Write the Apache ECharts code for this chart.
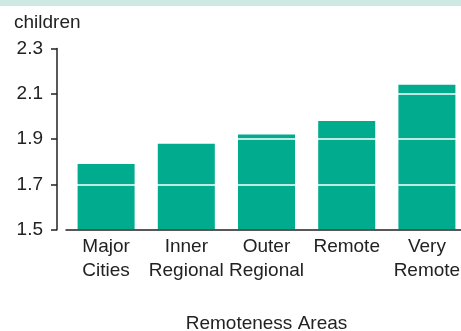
<!DOCTYPE html>
<html>
<head>
<meta charset="utf-8">
<script src="https://cdn.jsdelivr.net/npm/echarts@6/dist/echarts.min.js"></script>
<style>
  html, body { margin: 0; padding: 0; background: #fff; }
  #chart { width: 461px; height: 331px; }
</style>
</head>
<body>
<div id="chart"></div>
<script>
// Remoteness areas and their values (children)
const categories = ['Major\nCities', 'Inner\nRegional', 'Outer\nRegional', 'Remote', 'Very\nRemote'];
const values = [1.79, 1.88, 1.92, 1.98, 2.14];
const yTicks = [1.5, 1.7, 1.9, 2.1, 2.3];

const FONT = '"Liberation Sans", Arial, sans-serif';
const TEXT = '#222';
const BAR = '#00ab8e';

const chart = echarts.init(document.getElementById('chart'), null, { renderer: 'canvas' });

chart.setOption({
  animation: false,
  textStyle: { fontFamily: FONT },
  graphic: [
    { type: 'rect', left: 0, top: 0, shape: { width: 461, height: 6 }, style: { fill: '#cde9e2' } },
    { type: 'text', left: 14, top: 13, style: { text: 'children', font: '19px ' + FONT, fill: TEXT } }
  ],
  grid: {
    left: 66, top: 48.5, width: 401, height: 181.2,
    containLabel: false, outerBoundsMode: 'none'
  },
  xAxis: {
    type: 'category',
    data: categories,
    z: 5,
    name: 'Remoteness Areas',
    nameLocation: 'middle',
    nameGap: 85,
    nameTextStyle: { fontSize: 19, color: TEXT, fontFamily: FONT },
    axisLine: { lineStyle: { color: '#222', width: 1.5 } },
    axisTick: { alignWithLabel: true, length: 6, lineStyle: { color: '#222', width: 1.5 } },
    axisLabel: { fontSize: 19, color: TEXT, lineHeight: 24, margin: 5, interval: 0, fontFamily: FONT }
  },
  yAxis: {
    type: 'value',
    min: yTicks[0],
    max: yTicks[yTicks.length - 1],
    interval: 0.2,
    offset: 9,
    z: 4,
    axisLine: { show: true, lineStyle: { color: '#222', width: 1.5 } },
    axisTick: { show: true, length: 6, lineStyle: { color: '#222', width: 1.5 } },
    axisLabel: {
      fontSize: 19, color: TEXT, margin: 14, fontFamily: FONT,
      formatter: v => v.toFixed(1)
    },
    splitLine: { show: true, lineStyle: { color: '#ffffff', width: 1.5 } }
  },
  series: [{
    type: 'bar',
    data: values,
    barWidth: 57,
    itemStyle: { color: BAR },
    z: 2
  }]
});
</script>
</body>
</html>
